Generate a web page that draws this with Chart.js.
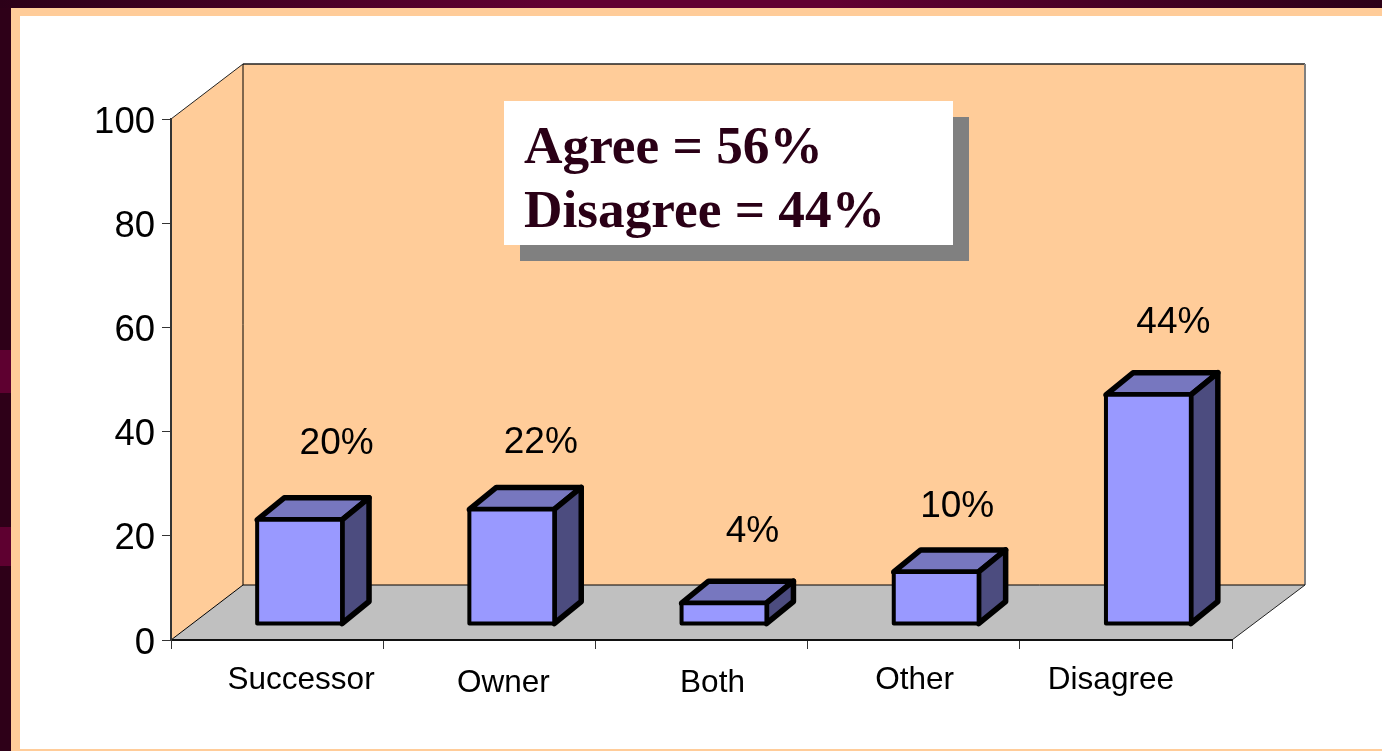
<!DOCTYPE html>
<html>
<head>
<meta charset="utf-8">
<title>Agree / Disagree</title>
<script src="https://cdn.jsdelivr.net/npm/chart.js@4"></script>
<style>
  html,body{margin:0;padding:0;width:1382px;height:751px;overflow:hidden;background:#2e0018;}
  .abs{position:absolute;}
  #top{left:0;top:0;width:1382px;height:8px;background:linear-gradient(90deg,#2c0018 0,#620032 40%,#620032 60%,#2c0018 100%);}
  #peach{left:11px;top:8px;width:1371px;height:743px;background:#FFCC99;}
  #white{left:20px;top:16px;width:1362px;height:733px;background:#fff;}
  .blot{left:0;width:11px;background:#5e0030;}
  #wrap{left:0;top:0;width:1382px;height:751px;}
  #shadow{left:520px;top:117px;width:449px;height:144px;background:#808080;}
  #box{left:504px;top:101px;width:449px;height:144px;background:#fff;}
  .t{position:absolute;left:20px;white-space:nowrap;font:bold 53.3px/64px "Liberation Serif",serif;color:#2a0016;}
</style>
</head>
<body>
<div class="abs" id="top"></div>
<div class="abs blot" style="top:350px;height:43px"></div>
<div class="abs blot" style="top:527px;height:39px"></div>
<div class="abs" id="peach"></div>
<div class="abs" id="white"></div>
<div class="abs" id="wrap"><canvas id="c" width="1382" height="751"></canvas></div>
<div class="abs" id="shadow"></div>
<div class="abs" id="box">
  <div class="t" id="l1" style="top:13px"></div>
  <div class="t" id="l2" style="top:77px"></div>
</div>
<script>
const categories = ['Successor', 'Owner', 'Both', 'Other', 'Disagree'];
const values = [20, 22, 4, 10, 44];
const valueLabels = ['20%', '22%', '4%', '10%', '44%'];
const yTicks = [0, 20, 40, 60, 80, 100];
const calloutLines = ['Agree = 56%', 'Disagree = 44%'];

document.getElementById('l1').textContent = calloutLines[0];
document.getElementById('l2').textContent = calloutLines[1];

// Layout of the hand-placed labels and the 3-D projection
const wallDepth = {dx: 73, dy: -55};
const barShift = {dx: 22.5, dy: -16};
const barDepth = {dx: 27, dy: -22};
const tickNudge = [[24, 0], [14, 3], [11, 3], [1, 0], [-15, 0]];
const labelNudge = [[37, -76.5], [29, -66.5], [28.5, -71.5], [21, -65.5], [25, -72]];

const scene3d = {
  id: 'scene3d',
  beforeDraw(chart) {
    const c = chart.ctx, x = chart.scales.x, y = chart.scales.y;
    const L = x.left, R = x.right, B = y.getPixelForValue(0), T = y.getPixelForValue(100);
    const d = wallDepth;
    const poly = (pts, fill) => {
      c.beginPath(); pts.forEach((p, i) => i ? c.lineTo(p[0], p[1]) : c.moveTo(p[0], p[1]));
      c.closePath(); if (fill) { c.fillStyle = fill; c.fill(); }
    };
    const line = (a, b, col, w) => {
      c.beginPath(); c.moveTo(a[0], a[1]); c.lineTo(b[0], b[1]);
      c.strokeStyle = col; c.lineWidth = w; c.stroke();
    };
    const bx = L + 72;
    c.save();
    poly([[bx, T + d.dy], [R + d.dx, T + d.dy], [R + d.dx, B + d.dy], [bx, B + d.dy]], '#FFCC99');
    poly([[L, T], [bx, T + d.dy], [bx, B + d.dy], [L, B]], '#FFCC99');
    poly([[L, B], [bx, B + d.dy], [R + d.dx, B + d.dy], [R, B]], '#C0C0C0');
    line([bx, T + d.dy], [R + d.dx, T + d.dy], '#222', 1.5);
    line([R + d.dx, T + d.dy], [R + d.dx, B + d.dy], '#808080', 2);
    line([bx, T + d.dy], [bx, B + d.dy], '#000', 1);
    line([bx, B + d.dy], [R + d.dx, B + d.dy], '#000', 1);
    line([L, T], [bx, T + d.dy], '#222', 1);
    line([L, B], [bx, B + d.dy], '#000', 1);
    line([R, B], [R + d.dx, B + d.dy], '#222', 1);
    c.restore();
    x.getLabelItems().forEach((it, i) => {
      if (!it.moved) {
        it.options.translation[0] += tickNudge[i][0];
        it.options.translation[1] += tickNudge[i][1];
        it.moved = true;
      }
    });
    y.getLabelItems().forEach(it => {
      if (!it.moved) { it.options.translation[1] += 3.5; it.moved = true; }
    });
  },
  beforeDatasetDraw(chart, args) {
    const c = chart.ctx, m = barDepth;
    c.save();
    c.translate(barShift.dx, barShift.dy);
    c.lineJoin = 'round';
    c.strokeStyle = '#000';
    chart.getDatasetMeta(args.index).data.forEach(b => {
      const l = b.x - b.width / 2, r = b.x + b.width / 2, t = b.y, s = b.base;
      c.lineWidth = 5.5;
      c.beginPath();
      c.moveTo(l, t); c.lineTo(l + m.dx, t + m.dy); c.lineTo(r + m.dx, t + m.dy); c.lineTo(r, t); c.closePath();
      c.fillStyle = '#7777BF'; c.fill(); c.stroke();
      c.beginPath();
      c.moveTo(r, t); c.lineTo(r + m.dx, t + m.dy); c.lineTo(r + m.dx, s + m.dy); c.lineTo(r, s); c.closePath();
      c.fillStyle = '#4C4C7F'; c.fill(); c.stroke();
    });
  },
  afterDatasetDraw(chart, args) {
    const c = chart.ctx;
    c.lineWidth = 4;
    c.lineJoin = 'round';
    c.strokeStyle = '#000';
    chart.getDatasetMeta(args.index).data.forEach(b => {
      c.strokeRect(b.x - b.width / 2, b.y, b.width, b.base - b.y);
    });
    c.restore();
  },
  afterDatasetsDraw(chart) {
    const c = chart.ctx;
    c.save();
    c.font = '37px "Liberation Sans", Arial, sans-serif';
    c.fillStyle = '#000';
    c.textAlign = 'center';
    c.textBaseline = 'middle';
    chart.getDatasetMeta(0).data.forEach((b, i) => {
      c.fillText(valueLabels[i], b.x + barShift.dx + labelNudge[i][0], b.y + barShift.dy + labelNudge[i][1]);
    });
    c.restore();
  }
};

new Chart(document.getElementById('c'), {
  type: 'bar',
  data: {
    labels: categories,
    datasets: [{
      data: values,
      backgroundColor: '#9999FF',
      borderWidth: 0,
      barPercentage: 0.4,
      categoryPercentage: 1
    }]
  },
  options: {
    responsive: false,
    animation: false,
    events: [],
    layout: {padding: {left: 0, top: 119, right: 150, bottom: 0}},
    plugins: {legend: {display: false}, tooltip: {enabled: false}, title: {display: false}},
    scales: {
      x: {
        afterFit(s) { s.height = 111; },
        grid: {drawOnChartArea: false, drawTicks: true, tickLength: 9, color: '#333', offset: true},
        border: {display: true, color: '#111', width: 2},
        ticks: {
          autoSkip: false, maxRotation: 0, minRotation: 0, padding: 12, color: '#000',
          font: {family: '"Liberation Sans", Arial, sans-serif', size: 31.5}
        }
      },
      y: {
        min: 0, max: 100,
        afterFit(s) { s.width = 171; },
        afterBuildTicks(s) { s.ticks = yTicks.map(v => ({value: v})); },
        grid: {drawOnChartArea: false, drawTicks: true, tickLength: 9, color: '#333'},
        border: {display: true, color: '#333', width: 2},
        ticks: {
          padding: 7, color: '#000',
          font: {family: '"Liberation Sans", Arial, sans-serif', size: 36.5}
        }
      }
    }
  },
  plugins: [scene3d]
});
</script>
</body>
</html>
